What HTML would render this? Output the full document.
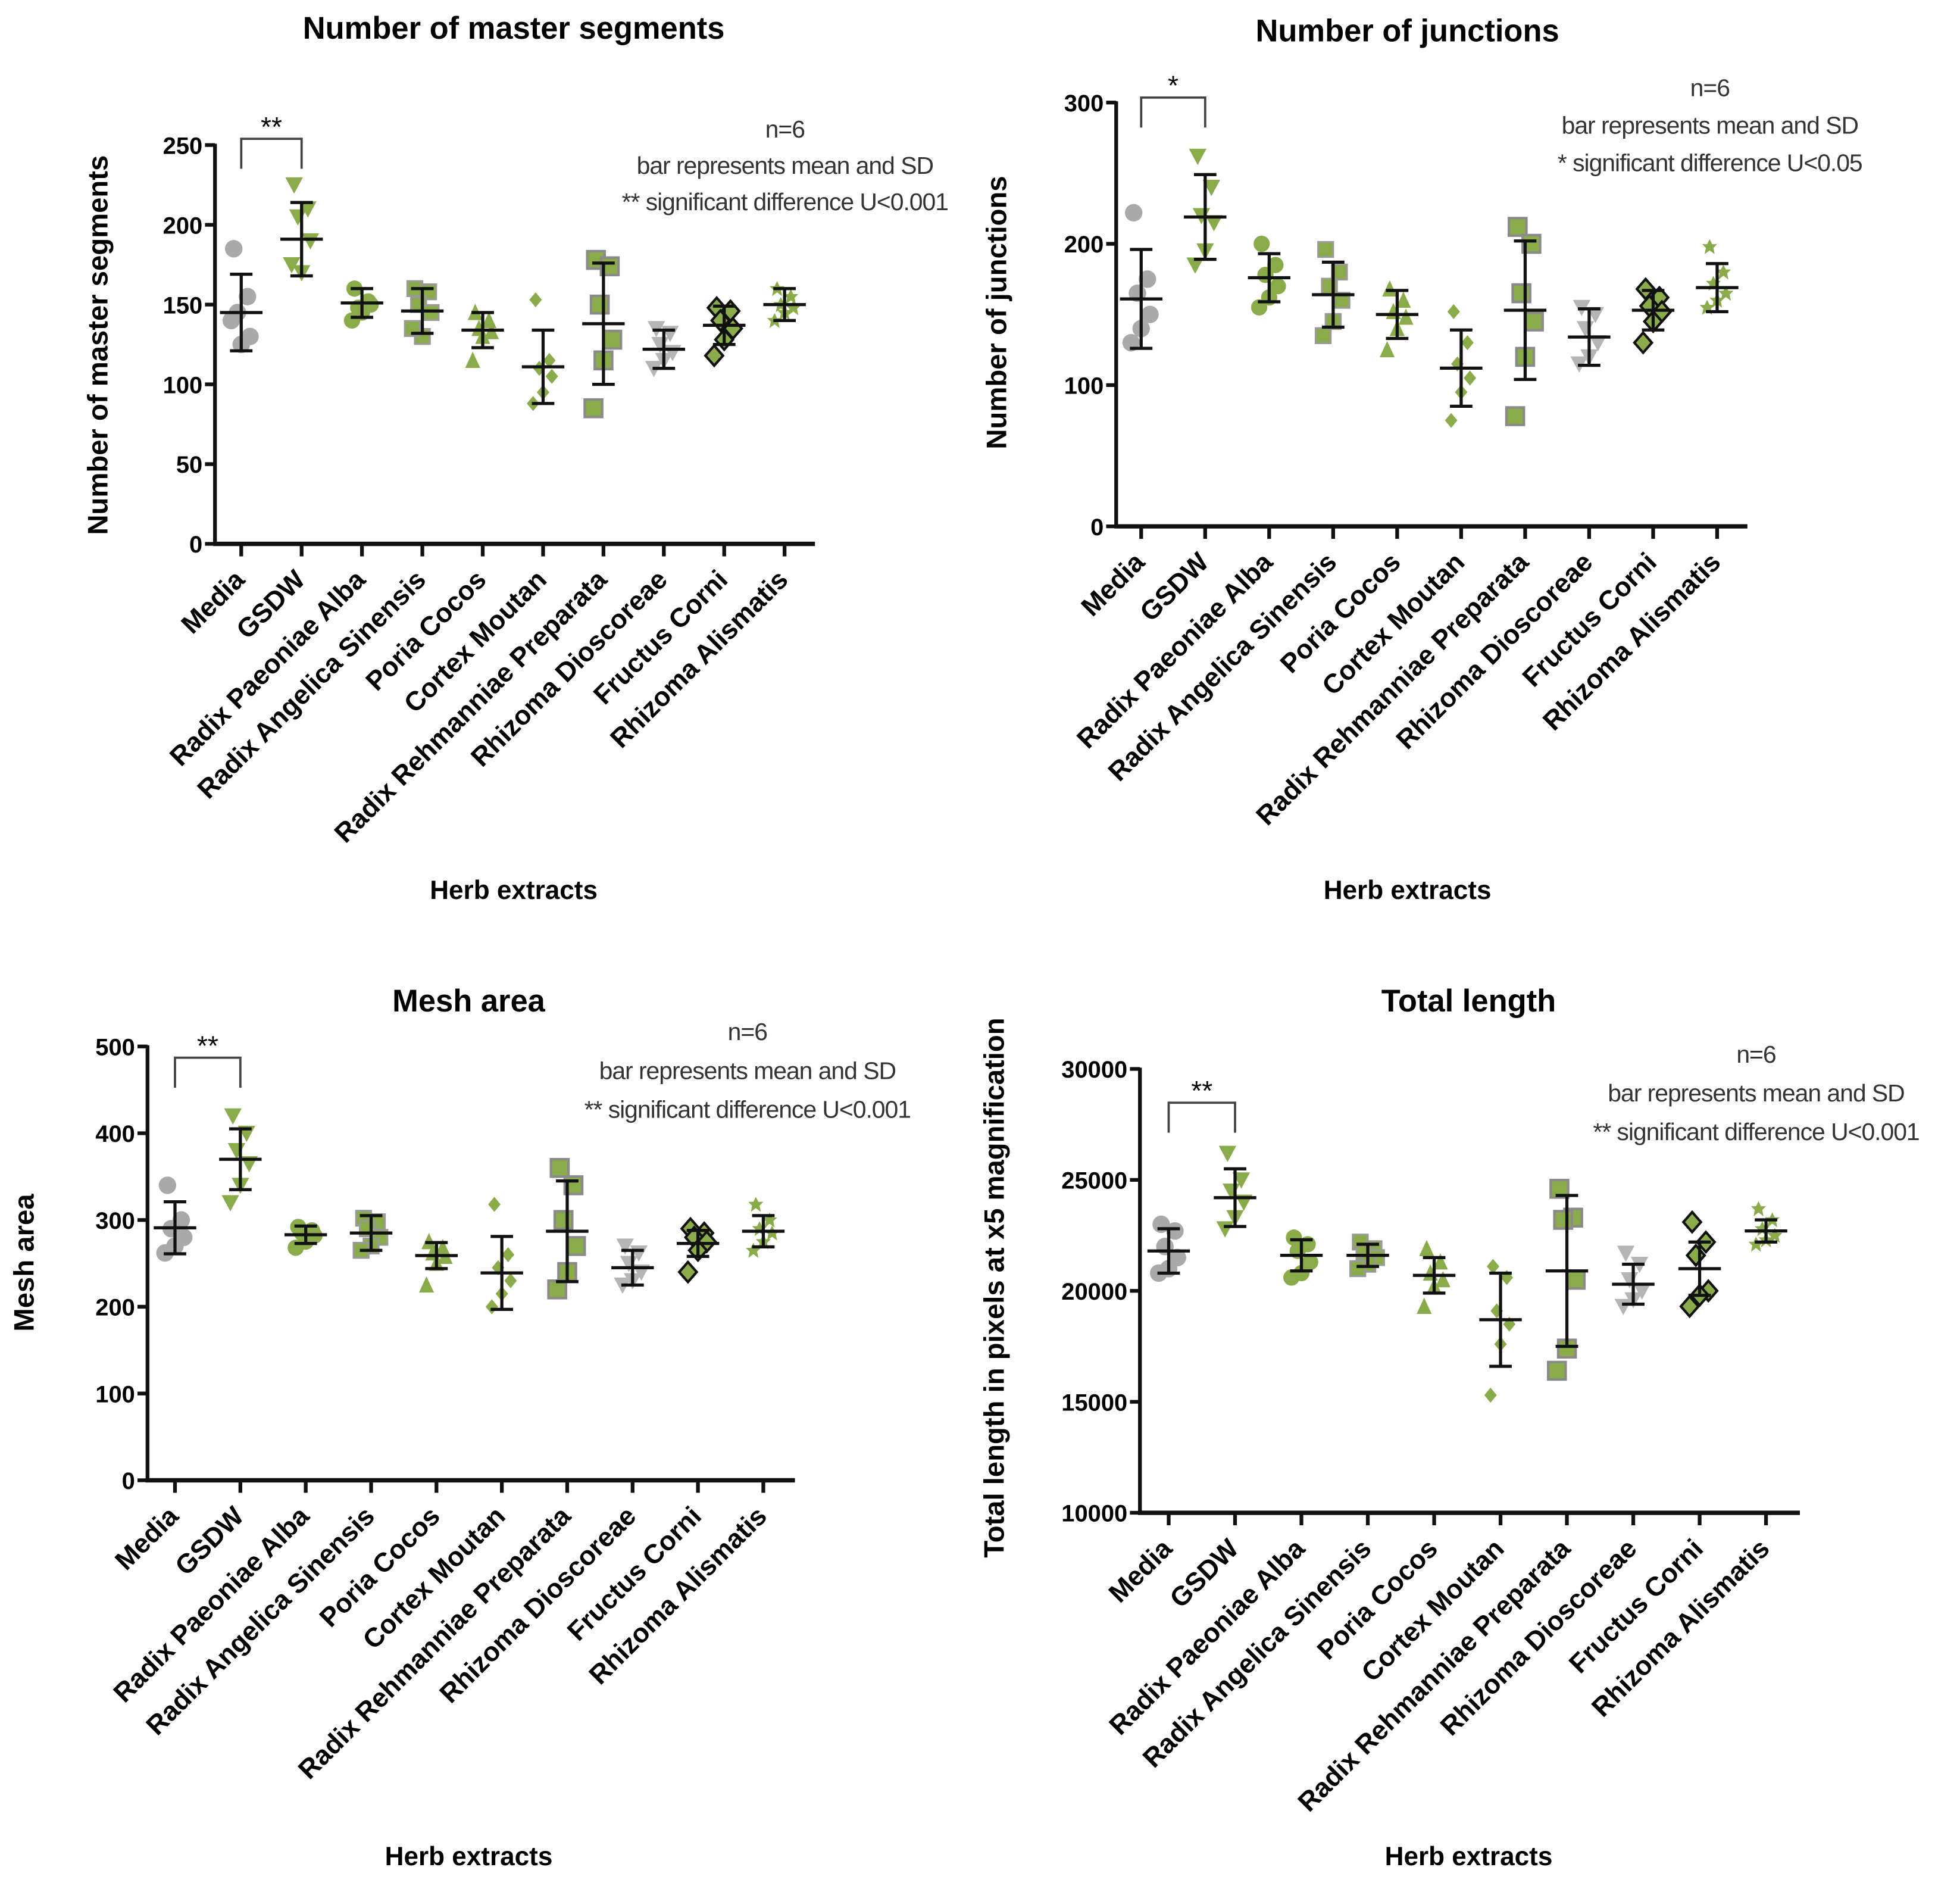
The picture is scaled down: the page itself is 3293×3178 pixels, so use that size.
<!DOCTYPE html>
<html><head><meta charset="utf-8"><style>
html,body{margin:0;padding:0;background:#fff}
svg{display:block}
text{font-family:"Liberation Sans",sans-serif}
</style></head><body>
<svg id="fig" width="3293" height="3178" viewBox="0 0 1568.1 1513.3" xmlns="http://www.w3.org/2000/svg"></svg>
<script>
const categories=["Media","GSDW","Radix Paeoniae Alba","Radix Angelica Sinensis","Poria Cocos","Cortex Moutan","Radix Rehmanniae Preparata","Rhizoma Dioscoreae","Fructus Corni","Rhizoma Alismatis"];
const segMeans=[145,191,151,146,134,111,138,122,137,150];
const segSD=[24,23,9,14,11,23,38,12,12,10];
const segPoints=[[185,155,145,130,125,140],[225,210,205,190,170,175],[160,152,148,150,145,140],[160,158,150,145,130,135],[145,140,135,133,130,115],[153,115,110,105,95,88],[178,174,150,128,115,85],[135,132,125,120,115,110],[148,146,140,135,128,118],[160,155,150,148,145,140]];
const segTicks=[0,50,100,150,200,250];
const junMeans=[161,219,176,164,150,112,153,134,153,169];
const junSD=[35,30,17,23,17,27,49,20,14,17];
const junPoints=[[222,175,165,150,140,130],[262,240,220,215,195,185],[200,185,178,170,162,155],[196,180,170,160,145,135],[168,160,152,148,140,125],[152,130,115,105,95,75],[212,200,165,145,120,78],[155,150,140,130,120,115],[168,162,156,152,145,130],[198,180,172,165,160,155]];
const junTicks=[0,100,200,300];
const meshMeans=[291,370,283,285,259,239,287,245,273,287];
const meshSD=[30,35,10,20,15,42,58,20,15,18];
const meshPoints=[[340,300,290,280,270,262],[420,400,380,365,340,320],[292,288,285,282,275,268],[302,298,290,280,270,265],[275,268,262,258,250,225],[318,260,245,230,215,200],[360,340,300,270,240,220],[270,262,250,240,230,225],[290,285,280,275,265,240],[318,300,290,285,275,265]];
const meshTicks=[0,100,200,300,400,500];
const lenMeans=[21800,24200,21600,21600,20700,18700,20900,20300,21000,22700];
const lenSD=[1000,1300,700,500,800,2100,3400,900,1200,500];
const lenPoints=[[23000,22700,22000,21500,21000,20800],[26200,25000,24500,24000,23300,22800],[22400,22100,21800,21300,20800,20600],[22200,21900,21700,21500,21200,21000],[21900,21300,20800,20500,20200,19300],[21100,20600,19100,18500,17600,15300],[24600,23300,23200,20500,17400,16400],[21700,21200,20500,20000,19600,19300],[23100,22200,21600,20000,19800,19300],[23700,23200,22800,22500,22300,22100]];
const lenTicks=[10000,15000,20000,25000,30000];

const G='#8aab4a',GR='#a9a9a9';
const markers=['circleGray','triDown','circle','square','triUp','diamondS','squareBig','triDownGray','diamondBk','star'];
const NS='http://www.w3.org/2000/svg';
const svg=document.getElementById('fig');
function el(tag,attrs,parent){const e=document.createElementNS(NS,tag);for(const k in attrs)e.setAttribute(k,attrs[k]);(parent||svg).appendChild(e);return e;}
function marker(g,type,x,y){
  let e;
  if(type==='circleGray')e=el('circle',{cx:x,cy:y,r:7,fill:GR},g);
  else if(type==='circle')e=el('circle',{cx:x,cy:y,r:6.5,fill:G},g);
  else if(type==='triDown')e=el('polygon',{points:`${x-7},${y-6} ${x+7},${y-6} ${x},${y+7}`,fill:G},g);
  else if(type==='triDownGray')e=el('polygon',{points:`${x-7},${y-6} ${x+7},${y-6} ${x},${y+7}`,fill:'#b5b5b5'},g);
  else if(type==='triUp')e=el('polygon',{points:`${x-6},${y+6} ${x+6},${y+6} ${x},${y-7}`,fill:G},g);
  else if(type==='square')e=el('rect',{x:x-6,y:y-6,width:12,height:12,fill:G,stroke:'#9a9a9a','stroke-width':1.5},g);
  else if(type==='squareBig')e=el('rect',{x:x-7,y:y-7,width:14,height:14,fill:G,stroke:'#8a8a8a','stroke-width':2},g);
  else if(type==='diamondS')e=el('polygon',{points:`${x},${y-6} ${x+5},${y} ${x},${y+6} ${x-5},${y}`,fill:G},g);
  else if(type==='diamondBk')e=el('polygon',{points:`${x},${y-8} ${x+7},${y} ${x},${y+8} ${x-7},${y}`,fill:G,stroke:'#111','stroke-width':2},g);
  else e=el('polygon',{points:`${x},${y-6} ${x+2},${y-2} ${x+6},${y-2} ${x+3},${y+1} ${x+4},${y+6} ${x},${y+3} ${x-4},${y+6} ${x-3},${y+1} ${x-6},${y-2} ${x-2},${y-2}`,fill:G},g);
  
  
}
const jit=[-6,5,-3,7,0,-8];
function chart(cfg,means,sds,pts,ticks){
  const g=el('g',{});
  
  
  const y0=ticks[0],y1=ticks[ticks.length-1];
  const Y=v=>cfg.yb+(v-y0)/(y1-y0)*(cfg.yt-cfg.yb);
  const X=i=>cfg.x0+i*cfg.dx;
  let t=el('text',{x:cfg.tx,y:cfg.ty,'font-size':25,'font-weight':'bold','text-anchor':'middle'},g);t.textContent=cfg.title;
  
  el('line',{x1:cfg.ax,y1:cfg.yb,x2:cfg.ax,y2:cfg.yt-1,stroke:'#111','stroke-width':3},g);
  el('line',{x1:cfg.ax-1.5,y1:cfg.yb,x2:cfg.xe,y2:cfg.yb,stroke:'#111','stroke-width':3.5},g);
  ticks.forEach(v=>{
    el('line',{x1:cfg.ax-8,y1:Y(v),x2:cfg.ax,y2:Y(v),stroke:'#111','stroke-width':3},g);
    const tt=el('text',{x:cfg.ax-10,y:Y(v)+7,'font-size':19,'font-weight':'bold','text-anchor':'end'},g);tt.textContent=v;
    
  });
  categories.forEach((c,i)=>{
    el('line',{x1:X(i),y1:cfg.yb,x2:X(i),y2:cfg.yb+10,stroke:'#111','stroke-width':3},g);
    const lx=X(i)+4,ly=cfg.yb+30;
    const lt=el('text',{x:lx,y:ly,'font-size':21.5,'font-weight':'bold','text-anchor':'end',transform:`rotate(-45 ${lx} ${ly})`},g);lt.textContent=c;
    
  });
  const yt=el('text',{x:0,y:0,'font-size':22.5,'font-weight':'bold','text-anchor':'middle',transform:`translate(${cfg.ylx},${cfg.yly}) rotate(-90)`},g);yt.textContent=cfg.ytitle;
  
  const xt=el('text',{x:cfg.tx,y:cfg.xty,'font-size':21,'font-weight':'bold','text-anchor':'middle'},g);xt.textContent='Herb  extracts';
  
  cfg.note.forEach((s,k)=>{const n=el('text',{x:cfg.nx,y:cfg.ny+k*cfg.ndy,'font-size':19.5,fill:'#333','text-anchor':'middle','letter-spacing':'-0.5'},g);n.textContent=s;
    });
  pts.forEach((arr,i)=>arr.forEach((v,k)=>marker(g,markers[i],X(i)+jit[k],Y(v))));
  means.forEach((m,i)=>{
    const x=X(i);
    const eb=el('g',{},g);
    el('line',{x1:x,y1:Y(m-sds[i]),x2:x,y2:Y(m+sds[i]),stroke:'#111','stroke-width':2.5},eb);
    el('line',{x1:x-9,y1:Y(m-sds[i]),x2:x+9,y2:Y(m-sds[i]),stroke:'#111','stroke-width':2.5},eb);
    el('line',{x1:x-9,y1:Y(m+sds[i]),x2:x+9,y2:Y(m+sds[i]),stroke:'#111','stroke-width':2.5},eb);
    el('line',{x1:x-17,y1:Y(m),x2:x+17,y2:Y(m),stroke:'#111','stroke-width':2.5},eb);
  });
  const b=el('path',{d:`M${X(0)} ${cfg.by+24} V${cfg.by} H${X(1)} V${cfg.by+24}`,fill:'none',stroke:'#444','stroke-width':1.8},g);
  
  const st=el('text',{x:(X(0)+X(1))/2,y:cfg.by-2,'font-size':22,'text-anchor':'middle'},g);st.textContent=cfg.stars;
  
}
chart({name:'master-segments-chart',title:'Number of master segments',tx:411,ty:31,ax:172,xe:652,yb:435,yt:116,x0:193,dx:48.3,ylx:86,yly:276,ytitle:'Number of master segments',xty:719,nx:628,ny:110,ndy:29,note:['n=6','bar represents mean and SD','** significant difference U<0.001'],by:111,stars:'**'},segMeans,segSD,segPoints,segTicks);
chart({name:'junctions-chart',title:'Number of junctions',tx:1126,ty:33,ax:893,xe:1398,yb:421,yt:82,x0:913,dx:51.2,ylx:805,yly:250,ytitle:'Number of junctions',xty:719,nx:1368,ny:77,ndy:30,note:['n=6','bar represents mean and SD','* significant difference U<0.05'],by:78,stars:'*'},junMeans,junSD,junPoints,junTicks);
chart({name:'mesh-area-chart',title:'Mesh area',tx:375,ty:809,ax:118,xe:636,yb:1184,yt:837,x0:140,dx:52.3,ylx:27,yly:1010,ytitle:'Mesh area',xty:1492,nx:598,ny:832,ndy:31,note:['n=6','bar represents mean and SD','** significant difference U<0.001'],by:846,stars:'**'},meshMeans,meshSD,meshPoints,meshTicks);
chart({name:'total-length-chart',title:'Total length',tx:1175,ty:809,ax:912,xe:1440,yb:1210,yt:855,x0:935,dx:53.1,ylx:803,yly:1030,ytitle:'Total length in pixels at x5 magnification',xty:1492,nx:1405,ny:850,ndy:31,note:['n=6','bar represents mean and SD','** significant difference U<0.001'],by:882,stars:'**'},lenMeans,lenSD,lenPoints,lenTicks);
</script>
</body></html>
